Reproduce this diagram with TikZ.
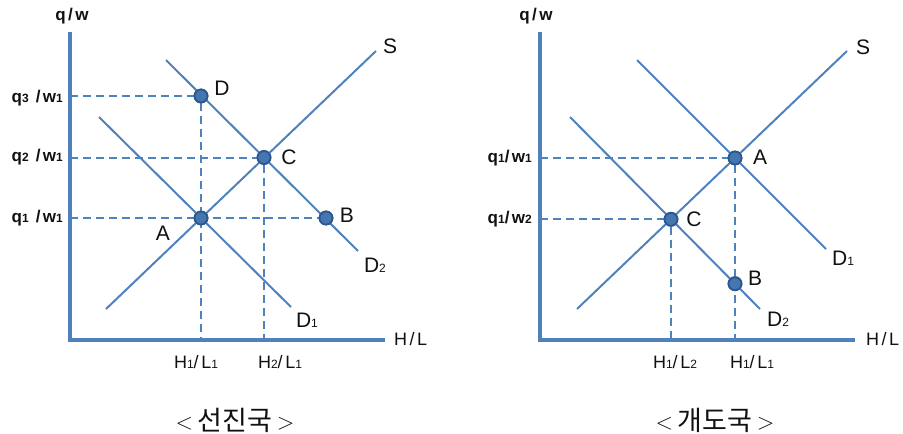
\documentclass[tikz,border=0pt]{standalone}
\usepackage{fontspec}
\setmainfont{Liberation Sans}
\newfontfamily\krfont{Noto Sans CJK KR}
\newfontfamily\widefont[LetterSpace=14]{Liberation Sans}
\usetikzlibrary{positioning}
\definecolor{curve}{HTML}{4F81BD}
\definecolor{dotfill}{HTML}{4676AF}
\definecolor{dotedge}{HTML}{2C5890}
\definecolor{ink}{HTML}{111111}
\newcommand{\sub}[1]{{\fontsize{12}{12}\selectfont #1}}
\newcommand{\brk}[1]{{\fontfamily{\sfdefault}\fontsize{23}{23}\selectfont\raisebox{1pt}{#1}}}

\begin{document}
\begin{tikzpicture}[x=1pt,y=-1pt,font=\fontsize{17}{17}\selectfont,text=ink]
 \tikzstyle{axisline}=[curve,line width=3.4pt]
 \tikzstyle{curveline}=[curve,line width=2pt]
 \tikzstyle{guide}=[curve,line width=2pt,dash pattern=on 8pt off 5pt]
 \tikzstyle{eqpt}=[circle,fill=dotfill,draw=dotedge,line width=1.8pt,inner sep=0pt,minimum size=13pt]
 \tikzstyle{lbl}=[inner sep=0pt,font=\fontsize{21}{21}\selectfont]
 \tikzstyle{ticklbl}=[inner sep=0pt,font=\widefont\fontsize{18}{18}\selectfont]
 \tikzstyle{qlbl}=[inner sep=0pt,anchor=east,font=\widefont\bfseries\fontsize{17}{17}\selectfont]
 \tikzstyle{title}=[inner sep=0pt,font=\krfont\fontsize{27}{27}\selectfont]
 \useasboundingbox (0,0) rectangle (903,434);
 % advanced country
 \coordinate (ytopL) at (70,32);
 \coordinate (oL) at (70,340);
 \coordinate (xendL) at (385,340);
 \coordinate (qthreeL) at (70,96);
 \coordinate (qtwoL) at (70,157.5);
 \coordinate (qoneL) at (70,218);
 \coordinate (honeL) at (201,340);
 \coordinate (htwoL) at (264,340);
 \coordinate (sloL) at (106,309);
 \coordinate (shiL) at (376,51);
 \coordinate (donetopL) at (99,117);
 \coordinate (doneendL) at (291,307);
 \coordinate (dtwotopL) at (166,60);
 \coordinate (dtwoendL) at (358,251);
 \node[eqpt] (aL) at (201,218) {};
 \node[eqpt] (cL) at (264,157.5) {};
 \node[eqpt] (dL) at (201,96) {};
 \node[eqpt] (bL) at (326,218) {};
 \draw[guide] (qthreeL) -- (dL);
 \draw[guide] (qtwoL) -- (cL);
 \draw[guide] (qoneL) -- (bL);
 \draw[guide] (dL) -- (honeL);
 \draw[guide] (cL) -- (htwoL);
 \draw[axisline] (ytopL) -- (oL) -- (xendL);
 \draw[curveline] (sloL) -- (shiL);
 \draw[curveline] (donetopL) -- (doneendL);
 \draw[curveline] (dtwotopL) -- (dtwoendL);
 \node[eqpt] at (aL) {};
 \node[eqpt] at (cL) {};
 \node[eqpt] at (dL) {};
 \node[eqpt] at (bL) {};
 \node[qlbl,anchor=center] (qwL) at (72,16) {q/w};
 \node[ticklbl,anchor=west] (hlL) at (394,339) {H/L};
 \node[qlbl] (qthreelblL) at (63,98) {q\sub{3} /w\sub{1}};
 \node[qlbl] (qtwolblL) at (63,157) {q\sub{2} /w\sub{1}};
 \node[qlbl] (qonelblL) at (63,218) {q\sub{1} /w\sub{1}};
 \node[ticklbl] (honelblL) at (196,362) {H\sub{1}/L\sub{1}};
 \node[ticklbl] (htwolblL) at (280,362) {H\sub{2}/L\sub{1}};
 \node[lbl] (slblL) at (390,46) {S};
 \node[lbl] (dlblL) at (222,88) {D};
 \node[lbl] (clblL) at (289,157) {C};
 \node[lbl] (blblL) at (347,215) {B};
 \node[lbl] (alblL) at (163,233) {A};
 \node[lbl] (dtwolblL) at (375,265) {D\sub{2}};
 \node[lbl] (donelblL) at (307,320) {D\sub{1}};
 \node[title] (titleL) at (235,420) {\brk{<}\,선진국\,\brk{>}};
 % developing country
 \coordinate (ytopR) at (540,32);
 \coordinate (oR) at (540,340);
 \coordinate (xendR) at (855,340);
 \coordinate (qoneR) at (540,158);
 \coordinate (qtwoR) at (540,219.3);
 \coordinate (honeR) at (735,340);
 \coordinate (htwoR) at (671,340);
 \coordinate (sloR) at (577,309);
 \coordinate (shiR) at (847,51);
 \coordinate (donetopR) at (637,60);
 \coordinate (doneendR) at (826,249);
 \coordinate (dtwotopR) at (570,117);
 \coordinate (dtwoendR) at (760,309);
 \node[eqpt] (aR) at (735,158) {};
 \node[eqpt] (cR) at (671,219.3) {};
 \node[eqpt] (bR) at (735,283.7) {};
 \draw[guide] (qoneR) -- (aR);
 \draw[guide] (qtwoR) -- (cR);
 \draw[guide] (aR) -- (honeR);
 \draw[guide] (cR) -- (htwoR);
 \draw[axisline] (ytopR) -- (oR) -- (xendR);
 \draw[curveline] (sloR) -- (shiR);
 \draw[curveline] (donetopR) -- (doneendR);
 \draw[curveline] (dtwotopR) -- (dtwoendR);
 \node[eqpt] at (aR) {};
 \node[eqpt] at (cR) {};
 \node[eqpt] at (bR) {};
 \node[qlbl,anchor=center] (qwR) at (536,16) {q/w};
 \node[ticklbl,anchor=west] (hlR) at (866,339) {H/L};
 \node[qlbl] (qonelblR) at (532,158) {q\sub{1}/w\sub{1}};
 \node[qlbl] (qtwolblR) at (532,219) {q\sub{1}/w\sub{2}};
 \node[ticklbl] (htwolblR) at (675,362) {H\sub{1}/L\sub{2}};
 \node[ticklbl] (honelblR) at (752,362) {H\sub{1}/L\sub{1}};
 \node[lbl] (slblR) at (863,47) {S};
 \node[lbl] (alblR) at (760,157) {A};
 \node[lbl] (clblR) at (694,219) {C};
 \node[lbl] (blblR) at (755,278) {B};
 \node[lbl] (donelblR) at (843,258) {D\sub{1}};
 \node[lbl] (dtwolblR) at (778,319) {D\sub{2}};
 \node[title] (titleR) at (715,420) {\brk{<}\,개도국\,\brk{>}};
\end{tikzpicture}
\end{document}
